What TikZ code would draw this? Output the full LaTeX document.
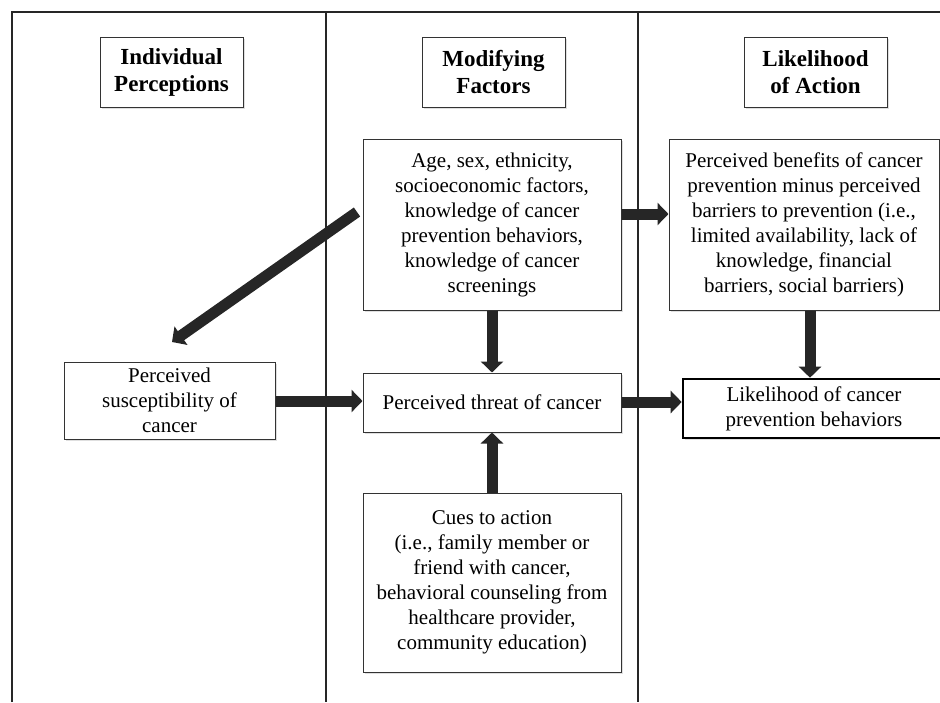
\documentclass[tikz,border=0pt]{standalone}
\usepackage{fontspec}
\setmainfont{Liberation Serif}
\usetikzlibrary{arrows.meta,shadows,calc}
\begin{document}
\begin{tikzpicture}[x=1pt,y=-1pt,
  box/.style={draw=black!80, line width=1pt, fill=white, inner sep=0pt, align=center,
    font=\fontsize{21}{25}\selectfont,
    drop shadow={opacity=0.25, shadow xshift=1.5pt, shadow yshift=-1.5pt}},
  titlebox/.style={box, font=\fontsize{23}{27}\selectfont\bfseries, minimum width=143pt, minimum height=70pt},
  blockarrow/.style={draw=black!85, line width=11pt,
    -{Triangle[width=22pt,length=11pt]}},
  frameline/.style={draw=black!85, line width=1.4pt}]
\useasboundingbox (0,0) rectangle (940,702);
% frame
\draw[frameline] (12,702) -- (12,12) -- (941,12);
\draw[frameline] (326,12) -- (326,702);
\draw[frameline] (638,12) -- (638,702);
% titles
\node[titlebox] (ip) at (171.5,72) {Individual\\Perceptions};
\node[titlebox] (mf) at (493.5,72) {Modifying\\Factors};
\node[titlebox] (la) at (815.5,72) {Likelihood\\of Action};
% boxes
\node[box, minimum width=258pt, minimum height=171pt] (age) at (492,224.5)
  {Age, sex, ethnicity,\\socioeconomic factors,\\knowledge of cancer\\prevention behaviors,\\knowledge of cancer\\screenings};
\node[box, minimum width=270pt, minimum height=171pt] (ben) at (804,224.5)
  {Perceived benefits of cancer\\prevention minus perceived\\barriers to prevention (i.e.,\\limited availability, lack of\\knowledge, financial\\barriers, social barriers)};
\node[box, minimum width=211pt, minimum height=77pt] (sus) at (169.5,400.5)
  {Perceived\\susceptibility of\\cancer};
\node[box, minimum width=258pt, minimum height=59pt] (thr) at (492,402.5)
  {Perceived threat of cancer};
\node[box, line width=2.6pt, draw=black, minimum width=262pt, minimum height=59pt] (lik) at (814,408.5)
  {Likelihood of cancer\\prevention behaviors};
\node[box, minimum width=258pt, minimum height=179pt] (cue) at (492,582.5)
  {Cues to action\\(i.e., family member or\\friend with cancer,\\behavioral counseling from\\healthcare provider,\\community education)};
% arrows
\coordinate (dstart) at (357,212);
\coordinate (dend) at (172,342);
\draw[blockarrow] (dstart) -- (dend);
\draw[blockarrow] (age.east |- 0,214) -- (ben.west |- 0,214);
\draw[blockarrow] (age.south) -- (thr.north);
\draw[blockarrow] (ben.south -| 810,0) -- (lik.north -| 810,0);
\draw[blockarrow] (sus.east |- 0,401) -- (thr.west |- 0,401);
\draw[blockarrow] (thr.east |- 0,402) -- (lik.west |- 0,402);
\draw[blockarrow] (cue.north) -- (thr.south);
\end{tikzpicture}
\end{document}
